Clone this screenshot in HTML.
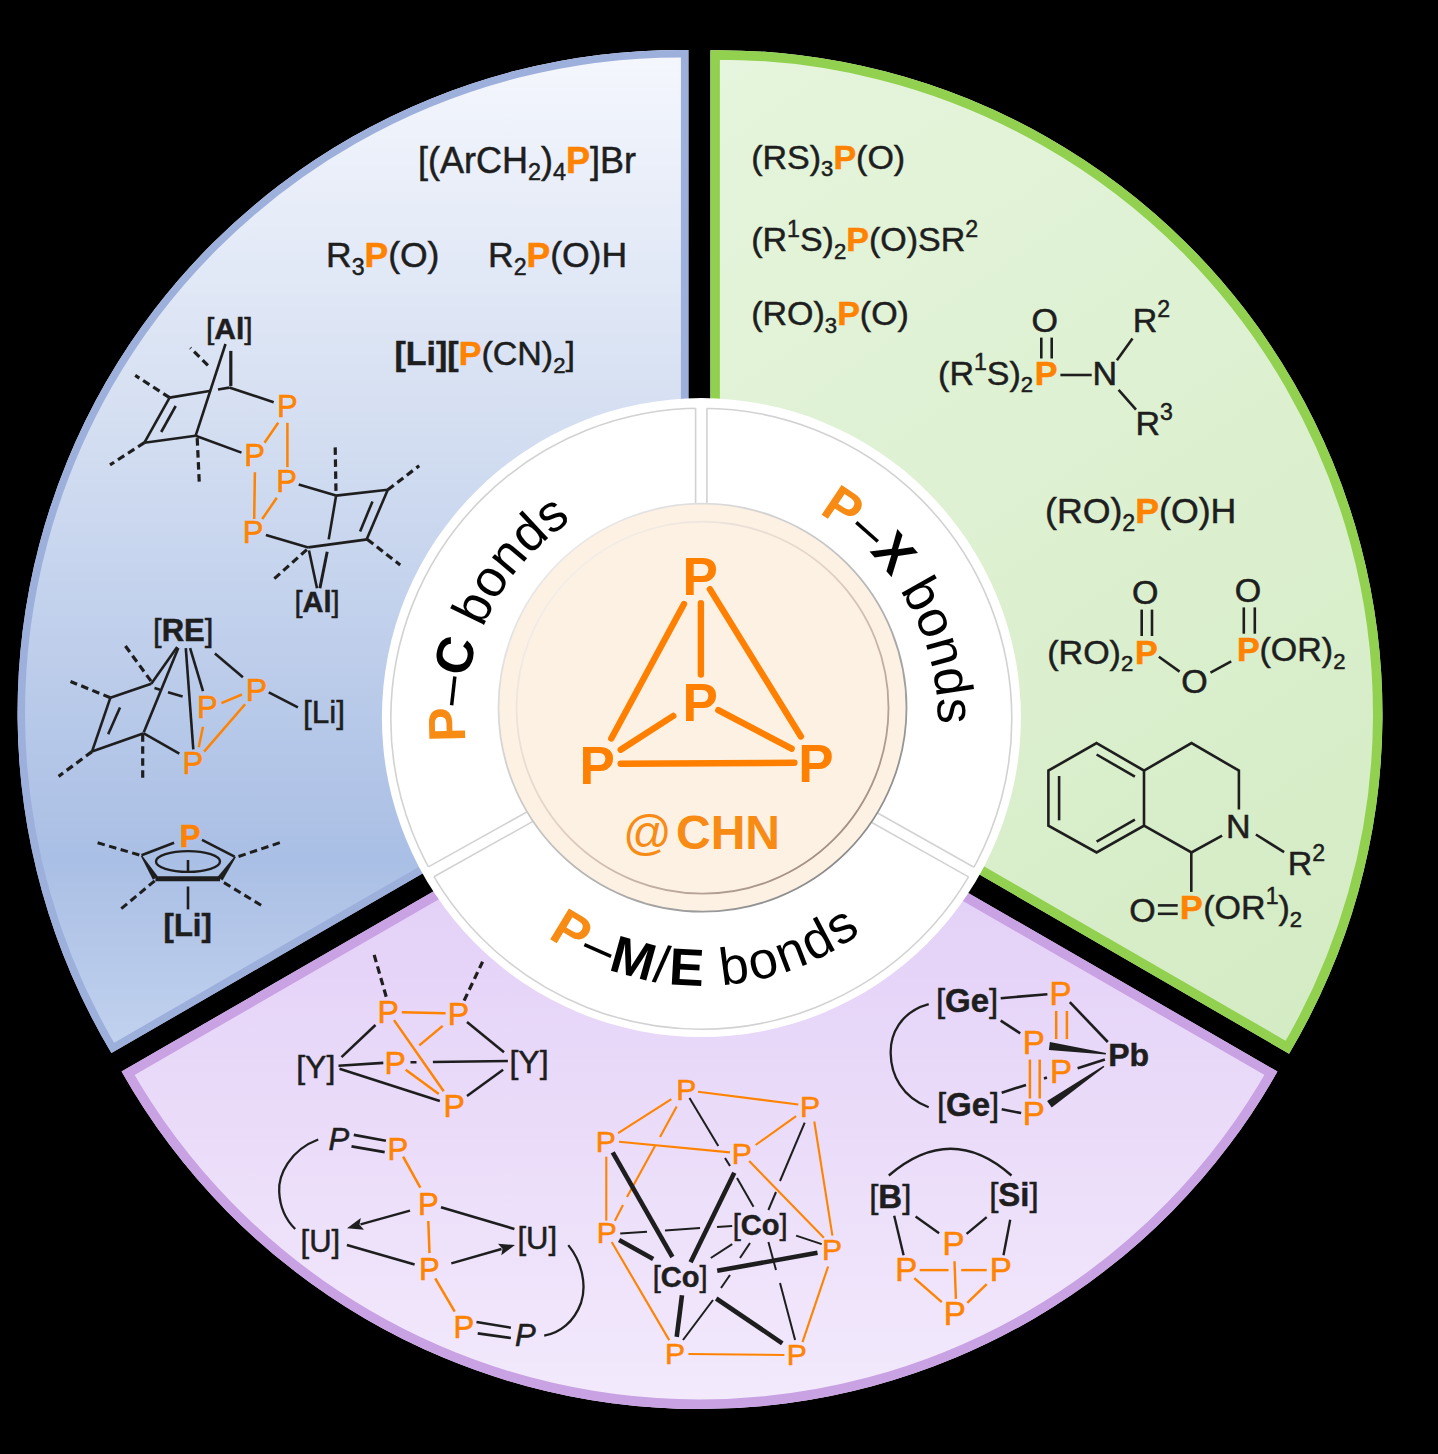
<!DOCTYPE html>
<html><head><meta charset="utf-8"><style>
html,body{margin:0;padding:0;background:#000;}
svg{display:block;font-family:"Liberation Sans",sans-serif;}
</style></head><body>
<svg width="1438" height="1454" viewBox="0 0 1438 1454">
<defs>
<linearGradient id="gb" x1="0" y1="50" x2="0" y2="1060" gradientUnits="userSpaceOnUse">
 <stop offset="0" stop-color="#f5f7fd"/><stop offset="0.35" stop-color="#d6e0f2"/>
 <stop offset="0.8" stop-color="#aabfe5"/><stop offset="1" stop-color="#c3d3ef"/></linearGradient>
<linearGradient id="gg" x1="700" y1="50" x2="1380" y2="1060" gradientUnits="userSpaceOnUse">
 <stop offset="0" stop-color="#e6f5dd"/><stop offset="1" stop-color="#d3ebc3"/></linearGradient>
<linearGradient id="gp" x1="0" y1="880" x2="0" y2="1410" gradientUnits="userSpaceOnUse">
 <stop offset="0" stop-color="#e3d0f7"/><stop offset="1" stop-color="#f3eafc"/></linearGradient>
<clipPath id="cb"><path d="M688.4,719.9 L688.4,50.0 A663,663 0 0 0 111.4,1053.0 Z"/></clipPath>
<clipPath id="cg"><path d="M710.4,718.9 L710.4,50.2 A664,664 0 0 1 1289.1,1053.7 Z"/></clipPath>
<clipPath id="cp"><path d="M699.5,737.9 L121.6,1071.5 A663.5,663.5 0 0 0 1277.4,1071.5 Z"/></clipPath>
<filter id="soft" x="-5%" y="-5%" width="110%" height="110%"><feGaussianBlur stdDeviation="0.7"/></filter>
<linearGradient id="rg1" x1="560" y1="560" x2="850" y2="860" gradientUnits="userSpaceOnUse">
<stop offset="0" stop-color="#e8e8e8"/><stop offset="0.5" stop-color="#bdbdbd"/><stop offset="1" stop-color="#8a8a8a"/></linearGradient>
<linearGradient id="rg2" x1="570" y1="570" x2="840" y2="850" gradientUnits="userSpaceOnUse">
<stop offset="0" stop-color="#f4eee8"/><stop offset="0.45" stop-color="#e2d2c6"/><stop offset="1" stop-color="#a08c80"/></linearGradient><path id="pc" d="M701.3,955.2 A236.5,236.5 0 1 1 701.3,482.2 A236.5,236.5 0 1 1 701.3,955.2"/><path id="pmb" d="M701.3,451.7 A267,267 0 1 0 701.3,985.7 A267,267 0 1 0 701.3,451.7"/></defs>
<rect width="1438" height="1454" fill="#000"/>
<path d="M688.4,719.9 L688.4,50.0 A663,663 0 0 0 111.4,1053.0 Z" fill="url(#gb)"/>
<path d="M688.4,719.9 L688.4,50.0 A663,663 0 0 0 111.4,1053.0 Z" fill="none" stroke="#9db0dc" stroke-width="15" clip-path="url(#cb)"/>
<path d="M710.4,718.9 L710.4,50.2 A664,664 0 0 1 1289.1,1053.7 Z" fill="url(#gg)"/>
<path d="M710.4,718.9 L710.4,50.2 A664,664 0 0 1 1289.1,1053.7 Z" fill="none" stroke="#92d050" stroke-width="19" clip-path="url(#cg)"/>
<path d="M699.5,737.9 L121.6,1071.5 A663.5,663.5 0 0 0 1277.4,1071.5 Z" fill="url(#gp)"/>
<path d="M699.5,737.9 L121.6,1071.5 A663.5,663.5 0 0 0 1277.4,1071.5 Z" fill="none" stroke="#c8a2e3" stroke-width="19" clip-path="url(#cp)"/>
<circle cx="701.4" cy="717.6" r="319.5" fill="#fff"/>
<circle cx="701.3" cy="718.7" r="310.5" fill="none" stroke="#d2d2d2" stroke-width="1.6"/>
<polygon points="428.7,879.6 556.2,808.4 550.8,798.6 423.2,869.8" fill="#fff"/>
<line x1="433.9" y1="876.7" x2="556.2" y2="808.4" stroke="#d2d2d2" stroke-width="1.6"/>
<line x1="428.4" y1="866.9" x2="550.8" y2="798.6" stroke="#d2d2d2" stroke-width="1.6"/>
<polygon points="979.3,870.1 853.7,799.5 848.2,809.3 973.8,879.9" fill="#fff"/>
<line x1="974.0" y1="867.2" x2="853.7" y2="799.5" stroke="#d2d2d2" stroke-width="1.6"/>
<line x1="968.5" y1="876.9" x2="848.2" y2="809.3" stroke="#d2d2d2" stroke-width="1.6"/>
<polygon points="695.6,402.2 695.6,550.0 706.9,550.0 706.9,402.2" fill="#fff"/>
<line x1="695.6" y1="408.2" x2="695.6" y2="550.0" stroke="#d2d2d2" stroke-width="1.6"/>
<line x1="706.9" y1="408.2" x2="706.9" y2="550.0" stroke="#d2d2d2" stroke-width="1.6"/>
<circle cx="702.5" cy="707.7" r="204" fill="#fdf1e3" stroke="url(#rg1)" stroke-width="1.8"/>
<circle cx="702.5" cy="707.7" r="186" fill="none" stroke="url(#rg2)" stroke-width="1.8"/>
<line x1="684.0" y1="604.1" x2="611.3" y2="738.4" stroke="#ff8000" stroke-width="6.4" stroke-linecap="round" />
<line x1="700.9" y1="603.2" x2="700.9" y2="674.5" stroke="#ff8000" stroke-width="6.4" stroke-linecap="round" />
<line x1="709.9" y1="589.1" x2="800.9" y2="736.5" stroke="#ff8000" stroke-width="6.4" stroke-linecap="round" />
<line x1="673.3" y1="715.9" x2="620.7" y2="749.7" stroke="#ff8000" stroke-width="6.4" stroke-linecap="round" />
<line x1="718.3" y1="710.2" x2="791.6" y2="748.7" stroke="#ff8000" stroke-width="6.4" stroke-linecap="round" />
<line x1="620.7" y1="763.7" x2="794.4" y2="762.8" stroke="#ff8000" stroke-width="6.4" stroke-linecap="round" />
<text x="700.2" y="594.8" font-size="53" fill="#ff8000" font-weight="bold" text-anchor="middle" >P</text>
<text x="700.2" y="720.6" font-size="53" fill="#ff8000" font-weight="bold" text-anchor="middle" >P</text>
<text x="597.2" y="783.5" font-size="53" fill="#ff8000" font-weight="bold" text-anchor="middle" >P</text>
<text x="816.0" y="781.6" font-size="53" fill="#ff8000" font-weight="bold" text-anchor="middle" >P</text>
<text x="623.0" y="849.4" font-size="48" fill="#f78b14" font-weight="normal" text-anchor="start" >@</text>
<text x="676.0" y="849.4" font-size="48" fill="#f78b14" font-weight="bold" text-anchor="start" >CHN</text>
<text font-size="52" fill="#000" text-anchor="middle"><textPath href="#pc" startOffset="477.2"><tspan fill="#f78b14" font-weight="bold">P</tspan>–<tspan font-weight="bold">C</tspan> bonds</textPath></text>
<text font-size="52" fill="#000" text-anchor="middle"><textPath href="#pc" startOffset="992.3"><tspan fill="#f78b14" font-weight="bold">P</tspan>–<tspan font-weight="bold">X</tspan> bonds</textPath></text>
<text font-size="52.5" letter-spacing="2" fill="#000" text-anchor="middle"><textPath href="#pmb" startOffset="843.5"><tspan fill="#f78b14" font-weight="bold">P</tspan>–<tspan font-weight="bold">M</tspan>/<tspan font-weight="bold">E</tspan> bonds</textPath></text>
<text x="418.0" y="172.5" font-size="36" fill="#1e1e1e" stroke="#1e1e1e" stroke-width="0.5" xml:space="preserve"><tspan>[(ArCH</tspan><tspan font-size="23.4" dy="7.9">2</tspan><tspan font-size="36" dy="-7.9">​</tspan><tspan>)</tspan><tspan font-size="23.4" dy="7.9">4</tspan><tspan font-size="36" dy="-7.9">​</tspan><tspan font-weight="bold" fill="#ff8300" stroke="#ff8300">P</tspan><tspan>]Br</tspan></text>
<text x="326.0" y="267.0" font-size="35.5" fill="#1e1e1e" stroke="#1e1e1e" stroke-width="0.5" xml:space="preserve"><tspan>R</tspan><tspan font-size="23.1" dy="7.8">3</tspan><tspan font-size="35.5" dy="-7.8">​</tspan><tspan font-weight="bold" fill="#ff8300" stroke="#ff8300">P</tspan><tspan>(O)</tspan></text>
<text x="488.0" y="267.4" font-size="35.5" fill="#1e1e1e" stroke="#1e1e1e" stroke-width="0.5" xml:space="preserve"><tspan>R</tspan><tspan font-size="23.1" dy="7.8">2</tspan><tspan font-size="35.5" dy="-7.8">​</tspan><tspan font-weight="bold" fill="#ff8300" stroke="#ff8300">P</tspan><tspan>(O)H</tspan></text>
<text x="394.5" y="365.2" font-size="34" fill="#1e1e1e" stroke="#1e1e1e" stroke-width="0.5" xml:space="preserve"><tspan font-weight="bold">[</tspan><tspan font-weight="bold">Li</tspan><tspan font-weight="bold">][</tspan><tspan font-weight="bold" fill="#ff8300" stroke="#ff8300">P</tspan><tspan>(CN)</tspan><tspan font-size="22.1" dy="7.5">2</tspan><tspan font-size="34" dy="-7.5">​</tspan><tspan>]</tspan></text>
<text x="206.0" y="338.7" font-size="30" fill="#1e1e1e" stroke="#1e1e1e" stroke-width="0.5" xml:space="preserve"><tspan>[</tspan><tspan font-weight="bold">Al</tspan><tspan>]</tspan></text>
<line x1="225.5" y1="344.0" x2="195.6" y2="435.8" stroke="#1e1e1e" stroke-width="2.6"/>
<line x1="230.8" y1="350.9" x2="230.8" y2="386.1" stroke="#1e1e1e" stroke-width="3.2"/>
<line x1="207.9" y1="365.4" x2="190.3" y2="347.8" stroke="#1e1e1e" stroke-width="3.2" stroke-dasharray="7.5 4.5"/>
<line x1="229.3" y1="387.6" x2="273.7" y2="402.2" stroke="#1e1e1e" stroke-width="2.6"/>
<line x1="229.3" y1="387.6" x2="218.0" y2="389.5" stroke="#1e1e1e" stroke-width="2.6"/>
<line x1="211.0" y1="390.7" x2="169.6" y2="397.6" stroke="#1e1e1e" stroke-width="2.6"/>
<line x1="169.6" y1="397.6" x2="135.2" y2="375.4" stroke="#1e1e1e" stroke-width="3.2" stroke-dasharray="7.5 4.5"/>
<line x1="169.6" y1="397.6" x2="144.4" y2="442.7" stroke="#1e1e1e" stroke-width="2.6"/>
<line x1="175.7" y1="406.0" x2="161.2" y2="432.0" stroke="#1e1e1e" stroke-width="2.6"/>
<line x1="144.4" y1="442.7" x2="195.6" y2="435.8" stroke="#1e1e1e" stroke-width="2.6"/>
<line x1="144.4" y1="442.7" x2="110.0" y2="464.9" stroke="#1e1e1e" stroke-width="3.2" stroke-dasharray="7.5 4.5"/>
<line x1="195.6" y1="435.8" x2="241.5" y2="452.6" stroke="#1e1e1e" stroke-width="2.6"/>
<line x1="197.2" y1="438.1" x2="199.4" y2="485.5" stroke="#1e1e1e" stroke-width="3.2" stroke-dasharray="7.5 4.5"/>
<text x="277.0" y="416.7" font-size="31" fill="#ff8300" stroke="#ff8300" stroke-width="0.6" font-weight="normal">P</text>
<text x="244.2" y="466.4" font-size="31" fill="#ff8300" stroke="#ff8300" stroke-width="0.6" font-weight="normal">P</text>
<text x="276.2" y="491.7" font-size="31" fill="#ff8300" stroke="#ff8300" stroke-width="0.6" font-weight="normal">P</text>
<text x="242.8" y="543.1" font-size="31" fill="#ff8300" stroke="#ff8300" stroke-width="0.6" font-weight="normal">P</text>
<line x1="278.2" y1="422.8" x2="264.5" y2="442.7" stroke="#ff8300" stroke-width="2.5"/>
<line x1="287.4" y1="422.8" x2="287.4" y2="467.2" stroke="#ff8300" stroke-width="2.5"/>
<line x1="254.9" y1="472.2" x2="254.2" y2="519.0" stroke="#ff8300" stroke-width="2.5"/>
<line x1="276.8" y1="497.8" x2="262.2" y2="519.0" stroke="#ff8300" stroke-width="2.5"/>
<line x1="298.7" y1="484.6" x2="336.0" y2="495.6" stroke="#1e1e1e" stroke-width="2.6"/>
<line x1="335.2" y1="447.4" x2="336.0" y2="493.4" stroke="#1e1e1e" stroke-width="3.2" stroke-dasharray="7.5 4.5"/>
<line x1="336.0" y1="495.6" x2="387.8" y2="489.8" stroke="#1e1e1e" stroke-width="2.6"/>
<line x1="387.8" y1="489.8" x2="419.2" y2="465.7" stroke="#1e1e1e" stroke-width="3.2" stroke-dasharray="7.5 4.5"/>
<line x1="387.8" y1="489.8" x2="366.6" y2="539.4" stroke="#1e1e1e" stroke-width="2.6"/>
<line x1="372.5" y1="501.4" x2="360.1" y2="531.4" stroke="#1e1e1e" stroke-width="2.6"/>
<line x1="336.0" y1="496.3" x2="328.7" y2="539.4" stroke="#1e1e1e" stroke-width="2.6"/>
<line x1="265.9" y1="535.0" x2="308.2" y2="547.4" stroke="#1e1e1e" stroke-width="2.6"/>
<line x1="308.2" y1="547.4" x2="367.4" y2="539.4" stroke="#1e1e1e" stroke-width="2.6"/>
<line x1="367.4" y1="539.4" x2="400.2" y2="565.0" stroke="#1e1e1e" stroke-width="3.2" stroke-dasharray="7.5 4.5"/>
<line x1="306.8" y1="549.6" x2="273.2" y2="579.6" stroke="#1e1e1e" stroke-width="3.2" stroke-dasharray="7.5 4.5"/>
<line x1="309.0" y1="550.4" x2="317.0" y2="588.3" stroke="#1e1e1e" stroke-width="2.6"/>
<line x1="319.9" y1="588.3" x2="327.2" y2="551.8" stroke="#1e1e1e" stroke-width="3.0"/>
<text x="294.5" y="612.4" font-size="29" fill="#1e1e1e" stroke="#1e1e1e" stroke-width="0.5" xml:space="preserve"><tspan>[</tspan><tspan font-weight="bold">Al</tspan><tspan>]</tspan></text>
<text x="153.0" y="640.6" font-size="31" fill="#1e1e1e" stroke="#1e1e1e" stroke-width="0.5" xml:space="preserve"><tspan>[</tspan><tspan font-weight="bold">RE</tspan><tspan>]</tspan></text>
<text x="302.9" y="722.5" font-size="31.5" fill="#1e1e1e" stroke="#1e1e1e" stroke-width="0.5" xml:space="preserve"><tspan>[</tspan><tspan>Li</tspan><tspan>]</tspan></text>
<text x="245.7" y="700.9" font-size="32" fill="#ff8300" stroke="#ff8300" stroke-width="0.6" font-weight="normal">P</text>
<text x="197.1" y="718.2" font-size="31" fill="#ff8300" stroke="#ff8300" stroke-width="0.6" font-weight="normal">P</text>
<text x="182.5" y="774.2" font-size="31" fill="#ff8300" stroke="#ff8300" stroke-width="0.6" font-weight="normal">P</text>
<line x1="177.2" y1="647.0" x2="151.3" y2="683.7" stroke="#1e1e1e" stroke-width="2.6"/>
<line x1="178.3" y1="648.1" x2="143.8" y2="732.2" stroke="#1e1e1e" stroke-width="2.6"/>
<line x1="185.8" y1="648.1" x2="193.3" y2="749.4" stroke="#1e1e1e" stroke-width="2.6"/>
<line x1="190.1" y1="648.1" x2="203.0" y2="691.2" stroke="#1e1e1e" stroke-width="2.6"/>
<line x1="214.9" y1="653.5" x2="242.9" y2="677.2" stroke="#1e1e1e" stroke-width="2.6"/>
<line x1="268.8" y1="692.3" x2="297.9" y2="707.4" stroke="#1e1e1e" stroke-width="2.6"/>
<line x1="151.3" y1="683.7" x2="110.4" y2="697.7" stroke="#1e1e1e" stroke-width="2.6"/>
<line x1="154.5" y1="688.0" x2="160.0" y2="689.7" stroke="#1e1e1e" stroke-width="2.6"/>
<line x1="168.0" y1="692.2" x2="182.6" y2="696.6" stroke="#1e1e1e" stroke-width="2.6"/>
<line x1="125.4" y1="646.0" x2="151.3" y2="681.5" stroke="#1e1e1e" stroke-width="3.2" stroke-dasharray="7.5 4.5"/>
<line x1="110.4" y1="697.7" x2="70.5" y2="681.5" stroke="#1e1e1e" stroke-width="3.2" stroke-dasharray="7.5 4.5"/>
<line x1="110.4" y1="697.7" x2="92.0" y2="751.6" stroke="#1e1e1e" stroke-width="2.6"/>
<line x1="120.0" y1="707.4" x2="108.2" y2="734.3" stroke="#1e1e1e" stroke-width="2.6"/>
<line x1="92.0" y1="751.6" x2="143.8" y2="733.3" stroke="#1e1e1e" stroke-width="2.6"/>
<line x1="92.0" y1="751.6" x2="58.6" y2="776.4" stroke="#1e1e1e" stroke-width="3.2" stroke-dasharray="7.5 4.5"/>
<line x1="143.8" y1="733.3" x2="179.3" y2="753.7" stroke="#1e1e1e" stroke-width="2.6"/>
<line x1="142.7" y1="734.3" x2="142.7" y2="780.7" stroke="#1e1e1e" stroke-width="3.2" stroke-dasharray="7.5 4.5"/>
<line x1="221.4" y1="703.1" x2="241.9" y2="694.5" stroke="#ff8300" stroke-width="2.5"/>
<line x1="245.1" y1="704.2" x2="204.1" y2="751.6" stroke="#ff8300" stroke-width="2.5"/>
<line x1="203.0" y1="726.8" x2="198.7" y2="747.3" stroke="#ff8300" stroke-width="2.5"/>
<text x="179.8" y="846.9" font-size="31" fill="#ff8300" stroke="#ff8300" stroke-width="0.6" font-weight="bold">P</text>
<text x="163.6" y="935.9" font-size="31" fill="#1e1e1e" stroke="#1e1e1e" stroke-width="0.5" xml:space="preserve"><tspan font-weight="bold">[</tspan><tspan font-weight="bold">Li</tspan><tspan font-weight="bold">]</tspan></text>
<line x1="174.1" y1="842.7" x2="141.5" y2="855.2" stroke="#1e1e1e" stroke-width="2.6"/>
<line x1="202.0" y1="839.9" x2="234.6" y2="856.6" stroke="#1e1e1e" stroke-width="2.6"/>
<polygon points="140.9,856.3 152.9,879.8 157.9,876.6 142.1,855.5" fill="#1e1e1e"/>
<polygon points="234.7,856.2 217.5,877.1 222.5,880.5 235.9,857.0" fill="#1e1e1e"/>
<line x1="155.4" y1="878.8" x2="220.0" y2="878.8" stroke="#1e1e1e" stroke-width="5"/>
<ellipse cx="188" cy="861.5" rx="32" ry="10.4" fill="none" stroke="#1e1e1e" stroke-width="2.4"/>
<line x1="188.0" y1="860.0" x2="188.0" y2="871.2" stroke="#1e1e1e" stroke-width="2.6"/>
<line x1="188.0" y1="886.5" x2="188.0" y2="909.4" stroke="#1e1e1e" stroke-width="2.6"/>
<line x1="97.6" y1="842.7" x2="140.0" y2="855.2" stroke="#1e1e1e" stroke-width="3" stroke-dasharray="7.5 4.5"/>
<line x1="279.8" y1="842.7" x2="236.0" y2="857.3" stroke="#1e1e1e" stroke-width="3" stroke-dasharray="7.5 4.5"/>
<line x1="121.3" y1="908.7" x2="155.4" y2="880.2" stroke="#1e1e1e" stroke-width="3" stroke-dasharray="7.5 4.5"/>
<line x1="261.1" y1="905.3" x2="220.0" y2="880.2" stroke="#1e1e1e" stroke-width="3" stroke-dasharray="7.5 4.5"/>
<text x="751.2" y="168.9" font-size="34" fill="#1e1e1e" stroke="#1e1e1e" stroke-width="0.5" xml:space="preserve"><tspan>(RS)</tspan><tspan font-size="22.1" dy="7.5">3</tspan><tspan font-size="34" dy="-7.5">​</tspan><tspan font-weight="bold" fill="#ff8300" stroke="#ff8300">P</tspan><tspan>(O)</tspan></text>
<text x="751.2" y="251.2" font-size="34" fill="#1e1e1e" stroke="#1e1e1e" stroke-width="0.5" xml:space="preserve"><tspan>(R</tspan><tspan font-size="23.1" dy="-14.6">1</tspan><tspan font-size="34" dy="14.6">​</tspan><tspan>S)</tspan><tspan font-size="22.1" dy="7.5">2</tspan><tspan font-size="34" dy="-7.5">​</tspan><tspan font-weight="bold" fill="#ff8300" stroke="#ff8300">P</tspan><tspan>(O)SR</tspan><tspan font-size="23.1" dy="-14.6">2</tspan><tspan font-size="34" dy="14.6">​</tspan></text>
<text x="751.2" y="325.3" font-size="34" fill="#1e1e1e" stroke="#1e1e1e" stroke-width="0.5" xml:space="preserve"><tspan>(RO)</tspan><tspan font-size="22.1" dy="7.5">3</tspan><tspan font-size="34" dy="-7.5">​</tspan><tspan font-weight="bold" fill="#ff8300" stroke="#ff8300">P</tspan><tspan>(O)</tspan></text>
<text x="938.1" y="384.5" font-size="34" fill="#1e1e1e" stroke="#1e1e1e" stroke-width="0.5" xml:space="preserve"><tspan>(R</tspan><tspan font-size="23.1" dy="-14.6">1</tspan><tspan font-size="34" dy="14.6">​</tspan><tspan>S)</tspan><tspan font-size="22.1" dy="7.5">2</tspan><tspan font-size="34" dy="-7.5">​</tspan></text>
<text x="1034.7" y="384.5" font-size="34" fill="#ff8300" stroke="#ff8300" stroke-width="0.6" font-weight="bold">P</text>
<text x="1031.5" y="331.5" font-size="34" fill="#1e1e1e" stroke="#1e1e1e" stroke-width="0.6" font-weight="normal">O</text>
<line x1="1041.3" y1="337.6" x2="1041.3" y2="358.5" stroke="#1e1e1e" stroke-width="2.6"/>
<line x1="1051.7" y1="337.6" x2="1051.7" y2="358.5" stroke="#1e1e1e" stroke-width="2.6"/>
<line x1="1060.4" y1="375.0" x2="1091.7" y2="375.0" stroke="#1e1e1e" stroke-width="2.6"/>
<text x="1092.4" y="384.5" font-size="34" fill="#1e1e1e" stroke="#1e1e1e" stroke-width="0.6" font-weight="normal">N</text>
<line x1="1116.9" y1="360.2" x2="1132.5" y2="338.5" stroke="#1e1e1e" stroke-width="2.6"/>
<text x="1132.8" y="331.5" font-size="34" fill="#1e1e1e" stroke="#1e1e1e" stroke-width="0.5" xml:space="preserve"><tspan>R</tspan><tspan font-size="23.1" dy="-14.6">2</tspan><tspan font-size="34" dy="14.6">​</tspan></text>
<line x1="1118.6" y1="389.8" x2="1136.0" y2="409.7" stroke="#1e1e1e" stroke-width="2.6"/>
<text x="1135.4" y="435.0" font-size="34" fill="#1e1e1e" stroke="#1e1e1e" stroke-width="0.5" xml:space="preserve"><tspan>R</tspan><tspan font-size="23.1" dy="-14.6">3</tspan><tspan font-size="34" dy="14.6">​</tspan></text>
<text x="1045.0" y="522.8" font-size="35.7" fill="#1e1e1e" stroke="#1e1e1e" stroke-width="0.5" xml:space="preserve"><tspan>(RO)</tspan><tspan font-size="23.2" dy="7.9">2</tspan><tspan font-size="35.7" dy="-7.9">​</tspan><tspan font-weight="bold" fill="#ff8300" stroke="#ff8300">P</tspan><tspan>(O)H</tspan></text>
<text x="1047.3" y="663.6" font-size="34" fill="#1e1e1e" stroke="#1e1e1e" stroke-width="0.5" xml:space="preserve"><tspan>(RO)</tspan><tspan font-size="22.1" dy="7.5">2</tspan><tspan font-size="34" dy="-7.5">​</tspan></text>
<text x="1135.0" y="663.6" font-size="34" fill="#ff8300" stroke="#ff8300" stroke-width="0.6" font-weight="bold">P</text>
<text x="1132.0" y="603.9" font-size="34" fill="#1e1e1e" stroke="#1e1e1e" stroke-width="0.6" font-weight="normal">O</text>
<line x1="1141.7" y1="609.6" x2="1141.7" y2="636.0" stroke="#1e1e1e" stroke-width="2.6"/>
<line x1="1152.0" y1="609.6" x2="1152.0" y2="636.0" stroke="#1e1e1e" stroke-width="2.6"/>
<line x1="1158.9" y1="656.7" x2="1179.6" y2="671.6" stroke="#1e1e1e" stroke-width="2.6"/>
<text x="1181.3" y="693.4" font-size="34" fill="#1e1e1e" stroke="#1e1e1e" stroke-width="0.6" font-weight="normal">O</text>
<line x1="1210.5" y1="672.7" x2="1231.2" y2="661.3" stroke="#1e1e1e" stroke-width="2.6"/>
<text x="1237.1" y="661.3" font-size="34" fill="#ff8300" stroke="#ff8300" stroke-width="0.6" font-weight="bold">P</text>
<text x="1234.7" y="601.6" font-size="34" fill="#1e1e1e" stroke="#1e1e1e" stroke-width="0.6" font-weight="normal">O</text>
<line x1="1243.8" y1="607.4" x2="1243.8" y2="633.7" stroke="#1e1e1e" stroke-width="2.6"/>
<line x1="1254.8" y1="607.4" x2="1254.8" y2="633.7" stroke="#1e1e1e" stroke-width="2.6"/>
<text x="1259.5" y="661.3" font-size="34" fill="#1e1e1e" stroke="#1e1e1e" stroke-width="0.5" xml:space="preserve"><tspan>(OR)</tspan><tspan font-size="22.1" dy="7.5">2</tspan><tspan font-size="34" dy="-7.5">​</tspan></text>
<polygon points="1096.6,743.1 1144.0,770.6 1144.0,825.7 1096.6,852.5 1048.4,825.7 1048.4,770.6" fill="none" stroke="#1e1e1e" stroke-width="2.6" stroke-linejoin="miter"/>
<line x1="1096.6" y1="754.5" x2="1134.9" y2="776.7" stroke="#1e1e1e" stroke-width="2.6"/>
<line x1="1059.1" y1="776.0" x2="1059.1" y2="820.3" stroke="#1e1e1e" stroke-width="2.6"/>
<line x1="1096.6" y1="841.7" x2="1134.9" y2="819.6" stroke="#1e1e1e" stroke-width="2.6"/>
<polyline points="1144,770.6 1191.5,743.1 1238.9,770.6 1238.9,809.6" fill="none" stroke="#1e1e1e" stroke-width="2.6" stroke-linejoin="miter"/>
<text x="1225.9" y="837.9" font-size="34" fill="#1e1e1e" stroke="#1e1e1e" stroke-width="0.6" font-weight="normal">N</text>
<polyline points="1222.1,835.6 1191.5,852.5 1144,825.7" fill="none" stroke="#1e1e1e" stroke-width="2.6" stroke-linejoin="miter"/>
<line x1="1191.3" y1="852.2" x2="1191.3" y2="891.9" stroke="#1e1e1e" stroke-width="2.6"/>
<line x1="1255.9" y1="834.5" x2="1284.1" y2="852.2" stroke="#1e1e1e" stroke-width="2.6"/>
<text x="1287.8" y="875.2" font-size="34" fill="#1e1e1e" stroke="#1e1e1e" stroke-width="0.5" xml:space="preserve"><tspan>R</tspan><tspan font-size="23.1" dy="-14.6">2</tspan><tspan font-size="34" dy="14.6">​</tspan></text>
<text x="1129.3" y="921.5" font-size="34" fill="#1e1e1e" stroke="#1e1e1e" stroke-width="0.5" xml:space="preserve"><tspan>O</tspan></text>
<line x1="1157.9" y1="905.4" x2="1177.7" y2="905.4" stroke="#1e1e1e" stroke-width="2.6"/>
<line x1="1157.9" y1="913.8" x2="1177.7" y2="913.8" stroke="#1e1e1e" stroke-width="2.6"/>
<text x="1180.0" y="919.0" font-size="34" fill="#ff8300" stroke="#ff8300" stroke-width="0.6" font-weight="bold">P</text>
<text x="1203.3" y="919.0" font-size="34" fill="#1e1e1e" stroke="#1e1e1e" stroke-width="0.5" xml:space="preserve"><tspan>(OR</tspan><tspan font-size="23.1" dy="-14.6">1</tspan><tspan font-size="34" dy="14.6">​</tspan><tspan>)</tspan><tspan font-size="22.1" dy="7.5">2</tspan><tspan font-size="34" dy="-7.5">​</tspan></text>
<text x="377.6" y="1023.0" font-size="32" fill="#ff8300" stroke="#ff8300" stroke-width="0.6" font-weight="normal">P</text>
<text x="447.7" y="1025.0" font-size="32" fill="#ff8300" stroke="#ff8300" stroke-width="0.6" font-weight="normal">P</text>
<text x="384.4" y="1073.6" font-size="32" fill="#ff8300" stroke="#ff8300" stroke-width="0.6" font-weight="normal">P</text>
<text x="443.4" y="1117.4" font-size="32" fill="#ff8300" stroke="#ff8300" stroke-width="0.6" font-weight="normal">P</text>
<text x="296.2" y="1078.3" font-size="32" fill="#1e1e1e" stroke="#1e1e1e" stroke-width="0.5" xml:space="preserve"><tspan>[Y]</tspan></text>
<text x="509.4" y="1072.8" font-size="32" fill="#1e1e1e" stroke="#1e1e1e" stroke-width="0.5" xml:space="preserve"><tspan>[Y]</tspan></text>
<line x1="401.8" y1="1012.3" x2="445.6" y2="1013.3" stroke="#ff8300" stroke-width="2.5"/>
<line x1="442.7" y1="1025.9" x2="419.3" y2="1045.4" stroke="#ff8300" stroke-width="2.5"/>
<line x1="394.0" y1="1020.1" x2="443.7" y2="1091.2" stroke="#ff8300" stroke-width="2.5"/>
<line x1="405.7" y1="1069.7" x2="438.8" y2="1094.1" stroke="#ff8300" stroke-width="2.5"/>
<line x1="341.5" y1="1057.1" x2="375.5" y2="1025.0" stroke="#1e1e1e" stroke-width="2.6"/>
<line x1="338.5" y1="1065.8" x2="383.3" y2="1062.9" stroke="#1e1e1e" stroke-width="2.6"/>
<line x1="339.5" y1="1068.8" x2="439.8" y2="1100.9" stroke="#1e1e1e" stroke-width="2.6"/>
<line x1="410.5" y1="1062.3" x2="416.5" y2="1062.2" stroke="#1e1e1e" stroke-width="2.6"/>
<line x1="432.9" y1="1062.0" x2="507.9" y2="1061.0" stroke="#1e1e1e" stroke-width="2.6"/>
<line x1="467.0" y1="1022.0" x2="504.0" y2="1052.2" stroke="#1e1e1e" stroke-width="2.6"/>
<line x1="467.0" y1="1096.0" x2="503.1" y2="1069.7" stroke="#1e1e1e" stroke-width="2.6"/>
<line x1="386.2" y1="996.7" x2="373.6" y2="952.9" stroke="#1e1e1e" stroke-width="3.2" stroke-dasharray="7.5 4.5"/>
<line x1="464.1" y1="1000.6" x2="482.6" y2="961.7" stroke="#1e1e1e" stroke-width="3.2" stroke-dasharray="7.5 4.5"/>
<text x="328.4" y="1149.8" font-size="31" fill="#1e1e1e" stroke="#1e1e1e" stroke-width="0.6" font-weight="normal" font-style="italic">P</text>
<text x="387.6" y="1160.2" font-size="31" fill="#ff8300" stroke="#ff8300" stroke-width="0.6" font-weight="normal">P</text>
<text x="417.9" y="1215.2" font-size="31" fill="#ff8300" stroke="#ff8300" stroke-width="0.6" font-weight="normal">P</text>
<text x="419.1" y="1279.5" font-size="31" fill="#ff8300" stroke="#ff8300" stroke-width="0.6" font-weight="normal">P</text>
<text x="453.5" y="1338.0" font-size="31" fill="#ff8300" stroke="#ff8300" stroke-width="0.6" font-weight="normal">P</text>
<text x="514.9" y="1346.0" font-size="31" fill="#1e1e1e" stroke="#1e1e1e" stroke-width="0.6" font-weight="normal" font-style="italic">P</text>
<text x="300.6" y="1251.5" font-size="31" fill="#1e1e1e" stroke="#1e1e1e" stroke-width="0.5" xml:space="preserve"><tspan>[U]</tspan></text>
<text x="517.5" y="1248.5" font-size="31" fill="#1e1e1e" stroke="#1e1e1e" stroke-width="0.5" xml:space="preserve"><tspan>[U]</tspan></text>
<line x1="353.8" y1="1134.9" x2="385.9" y2="1140.7" stroke="#1e1e1e" stroke-width="2.6"/>
<line x1="351.5" y1="1146.4" x2="384.7" y2="1152.1" stroke="#1e1e1e" stroke-width="2.6"/>
<line x1="403.1" y1="1156.7" x2="420.3" y2="1187.7" stroke="#ff8300" stroke-width="2.5"/>
<line x1="428.3" y1="1221.0" x2="429.5" y2="1253.1" stroke="#ff8300" stroke-width="2.5"/>
<line x1="435.2" y1="1278.3" x2="454.7" y2="1311.6" stroke="#ff8300" stroke-width="2.5"/>
<line x1="410.0" y1="1210.6" x2="360.5" y2="1224.4" stroke="#1e1e1e" stroke-width="2.5"/>
<polygon points="347.0,1228.2 360.8,1218.1 359.5,1224.7 364.0,1229.7" fill="#1e1e1e"/>
<line x1="441.0" y1="1207.2" x2="514.4" y2="1229.0" stroke="#1e1e1e" stroke-width="2.6"/>
<line x1="346.9" y1="1245.1" x2="414.6" y2="1264.6" stroke="#1e1e1e" stroke-width="2.6"/>
<line x1="451.3" y1="1263.4" x2="501.5" y2="1249.0" stroke="#1e1e1e" stroke-width="2.5"/>
<polygon points="515.0,1245.1 501.3,1255.3 502.5,1248.7 498.0,1243.8" fill="#1e1e1e"/>
<line x1="476.5" y1="1322.0" x2="510.9" y2="1327.7" stroke="#1e1e1e" stroke-width="2.6"/>
<line x1="477.7" y1="1333.4" x2="510.9" y2="1338.0" stroke="#1e1e1e" stroke-width="2.6"/>
<path d="M318.2,1139.5 C290,1150 278,1175 279.2,1192 C280,1208 286,1220 295.2,1229" fill="none" stroke="#1e1e1e" stroke-width="2.3"/>
<path d="M568.3,1245.1 C582,1262 587,1285 581,1303 C574,1322 560,1333 544.2,1335.7" fill="none" stroke="#1e1e1e" stroke-width="2.3"/>
<line x1="698.0" y1="1091.7" x2="798.3" y2="1104.5" stroke="#ff8300" stroke-width="2.1"/>
<line x1="671.4" y1="1099.1" x2="618.1" y2="1133.2" stroke="#ff8300" stroke-width="2.1"/>
<line x1="676.7" y1="1106.6" x2="660.0" y2="1137.0" stroke="#ff8300" stroke-width="2.1"/>
<line x1="655.0" y1="1146.0" x2="627.0" y2="1197.0" stroke="#ff8300" stroke-width="2.1"/>
<line x1="623.0" y1="1205.0" x2="614.9" y2="1220.7" stroke="#ff8300" stroke-width="2.1"/>
<line x1="619.1" y1="1141.8" x2="730.0" y2="1152.4" stroke="#ff8300" stroke-width="2.1"/>
<line x1="796.1" y1="1116.2" x2="755.6" y2="1145.0" stroke="#ff8300" stroke-width="2.1"/>
<line x1="606.3" y1="1156.7" x2="606.3" y2="1220.7" stroke="#ff8300" stroke-width="2.1"/>
<line x1="749.2" y1="1161.0" x2="823.9" y2="1237.7" stroke="#ff8300" stroke-width="2.1"/>
<line x1="814.3" y1="1121.5" x2="832.4" y2="1235.6" stroke="#ff8300" stroke-width="2.1"/>
<line x1="611.7" y1="1242.0" x2="669.2" y2="1340.1" stroke="#ff8300" stroke-width="2.1"/>
<line x1="828.1" y1="1266.5" x2="802.5" y2="1342.2" stroke="#ff8300" stroke-width="2.1"/>
<line x1="688.4" y1="1354.0" x2="784.4" y2="1355.0" stroke="#ff8300" stroke-width="2.1"/>
<line x1="689.5" y1="1098.0" x2="718.3" y2="1146.0" stroke="#1e1e1e" stroke-width="2.0"/>
<line x1="725.0" y1="1158.0" x2="730.0" y2="1166.0" stroke="#1e1e1e" stroke-width="2.0"/>
<line x1="737.0" y1="1178.0" x2="753.5" y2="1206.8" stroke="#1e1e1e" stroke-width="2.0"/>
<line x1="804.7" y1="1122.6" x2="780.0" y2="1181.0" stroke="#1e1e1e" stroke-width="2.0"/>
<line x1="776.0" y1="1192.0" x2="768.4" y2="1210.0" stroke="#1e1e1e" stroke-width="2.0"/>
<line x1="620.2" y1="1233.5" x2="647.0" y2="1231.7" stroke="#1e1e1e" stroke-width="2.0"/>
<line x1="665.0" y1="1230.5" x2="700.0" y2="1228.1" stroke="#1e1e1e" stroke-width="2.0"/>
<line x1="717.0" y1="1227.0" x2="732.2" y2="1226.0" stroke="#1e1e1e" stroke-width="2.0"/>
<line x1="796.1" y1="1235.6" x2="821.7" y2="1244.1" stroke="#1e1e1e" stroke-width="2.0"/>
<line x1="768.4" y1="1242.0" x2="776.0" y2="1270.0" stroke="#1e1e1e" stroke-width="2.0"/>
<line x1="780.0" y1="1283.0" x2="795.1" y2="1340.1" stroke="#1e1e1e" stroke-width="2.0"/>
<line x1="732.2" y1="1244.1" x2="710.8" y2="1258.0" stroke="#1e1e1e" stroke-width="2.0"/>
<line x1="750.0" y1="1243.0" x2="740.0" y2="1258.0" stroke="#1e1e1e" stroke-width="2.0"/>
<line x1="730.0" y1="1275.0" x2="721.0" y2="1288.0" stroke="#1e1e1e" stroke-width="2.0"/>
<line x1="713.0" y1="1300.0" x2="683.0" y2="1340.0" stroke="#1e1e1e" stroke-width="2.0"/>
<line x1="612.7" y1="1152.4" x2="672.4" y2="1257.0" stroke="#1e1e1e" stroke-width="4.6"/>
<line x1="734.3" y1="1172.7" x2="690.6" y2="1262.3" stroke="#1e1e1e" stroke-width="4.6"/>
<line x1="619.1" y1="1239.9" x2="653.2" y2="1259.1" stroke="#1e1e1e" stroke-width="4.6"/>
<line x1="717.2" y1="1270.8" x2="817.5" y2="1252.7" stroke="#1e1e1e" stroke-width="4.6"/>
<line x1="682.0" y1="1295.3" x2="676.7" y2="1336.9" stroke="#1e1e1e" stroke-width="4.6"/>
<line x1="716.2" y1="1298.5" x2="782.3" y2="1343.3" stroke="#1e1e1e" stroke-width="4.6"/>
<text x="676.3" y="1100.2" font-size="30" fill="#ff8300" stroke="#ff8300" stroke-width="0.6" font-weight="normal">P</text>
<text x="800.0" y="1117.2" font-size="30" fill="#ff8300" stroke="#ff8300" stroke-width="0.6" font-weight="normal">P</text>
<text x="595.8" y="1152.4" font-size="30" fill="#ff8300" stroke="#ff8300" stroke-width="0.6" font-weight="normal">P</text>
<text x="731.8" y="1164.2" font-size="30" fill="#ff8300" stroke="#ff8300" stroke-width="0.6" font-weight="normal">P</text>
<text x="596.8" y="1243.1" font-size="30" fill="#ff8300" stroke="#ff8300" stroke-width="0.6" font-weight="normal">P</text>
<text x="821.9" y="1260.1" font-size="30" fill="#ff8300" stroke="#ff8300" stroke-width="0.6" font-weight="normal">P</text>
<text x="665.1" y="1363.6" font-size="30" fill="#ff8300" stroke="#ff8300" stroke-width="0.6" font-weight="normal">P</text>
<text x="786.7" y="1364.6" font-size="30" fill="#ff8300" stroke="#ff8300" stroke-width="0.6" font-weight="normal">P</text>
<text x="732.8" y="1234.5" font-size="29" fill="#1e1e1e" stroke="#1e1e1e" stroke-width="0.5" xml:space="preserve"><tspan>[</tspan><tspan font-weight="bold">Co</tspan><tspan>]</tspan></text>
<text x="652.8" y="1286.8" font-size="29" fill="#1e1e1e" stroke="#1e1e1e" stroke-width="0.5" xml:space="preserve"><tspan>[</tspan><tspan font-weight="bold">Co</tspan><tspan>]</tspan></text>
<text x="935.9" y="1011.9" font-size="33" fill="#1e1e1e" stroke="#1e1e1e" stroke-width="0.5" xml:space="preserve"><tspan>[</tspan><tspan font-weight="bold">Ge</tspan><tspan>]</tspan></text>
<text x="936.9" y="1116.0" font-size="33" fill="#1e1e1e" stroke="#1e1e1e" stroke-width="0.5" xml:space="preserve"><tspan>[</tspan><tspan font-weight="bold">Ge</tspan><tspan>]</tspan></text>
<text x="1049.5" y="1005.0" font-size="33" fill="#ff8300" stroke="#ff8300" stroke-width="0.6" font-weight="normal">P</text>
<text x="1022.8" y="1053.7" font-size="33" fill="#ff8300" stroke="#ff8300" stroke-width="0.6" font-weight="normal">P</text>
<text x="1050.0" y="1082.9" font-size="33" fill="#ff8300" stroke="#ff8300" stroke-width="0.6" font-weight="normal">P</text>
<text x="1022.8" y="1124.8" font-size="33" fill="#ff8300" stroke="#ff8300" stroke-width="0.6" font-weight="normal">P</text>
<text x="1108.2" y="1066.4" font-size="32" fill="#1e1e1e" stroke="#1e1e1e" stroke-width="0.5" xml:space="preserve"><tspan font-weight="bold">Pb</tspan></text>
<line x1="1000.7" y1="998.2" x2="1047.4" y2="994.3" stroke="#1e1e1e" stroke-width="2.6"/>
<line x1="1000.7" y1="1020.6" x2="1020.2" y2="1033.3" stroke="#1e1e1e" stroke-width="2.6"/>
<line x1="1056.2" y1="1010.9" x2="1056.2" y2="1039.1" stroke="#ff8300" stroke-width="2.5"/>
<line x1="1066.9" y1="1010.9" x2="1066.9" y2="1039.1" stroke="#ff8300" stroke-width="2.5"/>
<line x1="1069.8" y1="1002.1" x2="1107.8" y2="1042.0" stroke="#1e1e1e" stroke-width="2.6"/>
<polygon points="1048.9,1049.9 1105.8,1054.4 1106.0,1053.0 1049.9,1041.9" fill="#1e1e1e"/>
<line x1="1077.6" y1="1068.3" x2="1104.9" y2="1059.6" stroke="#1e1e1e" stroke-width="2.6"/>
<polygon points="1051.7,1107.6 1104.3,1067.0 1103.5,1065.8 1047.1,1101.0" fill="#1e1e1e"/>
<line x1="1029.9" y1="1059.6" x2="1029.9" y2="1098.5" stroke="#ff8300" stroke-width="2.5"/>
<line x1="1039.7" y1="1059.6" x2="1039.7" y2="1098.5" stroke="#ff8300" stroke-width="2.5"/>
<line x1="1001.7" y1="1092.7" x2="1026.0" y2="1084.9" stroke="#1e1e1e" stroke-width="2.6"/>
<line x1="1044.0" y1="1078.5" x2="1047.0" y2="1077.5" stroke="#1e1e1e" stroke-width="2.6"/>
<line x1="1001.7" y1="1109.2" x2="1021.2" y2="1113.1" stroke="#1e1e1e" stroke-width="2.6"/>
<path d="M928.7,1004.1 C900,1012 890,1035 890.7,1053.7 C891,1075 902,1097 928.7,1107.3" fill="none" stroke="#1e1e1e" stroke-width="2.3"/>
<text x="869.2" y="1208.4" font-size="33" fill="#1e1e1e" stroke="#1e1e1e" stroke-width="0.5" xml:space="preserve"><tspan>[</tspan><tspan font-weight="bold">B</tspan><tspan>]</tspan></text>
<text x="989.2" y="1206.4" font-size="33" fill="#1e1e1e" stroke="#1e1e1e" stroke-width="0.5" xml:space="preserve"><tspan>[</tspan><tspan font-weight="bold">Si</tspan><tspan>]</tspan></text>
<text x="942.5" y="1254.6" font-size="33" fill="#ff8300" stroke="#ff8300" stroke-width="0.6" font-weight="normal">P</text>
<text x="895.2" y="1280.8" font-size="33" fill="#ff8300" stroke="#ff8300" stroke-width="0.6" font-weight="normal">P</text>
<text x="989.8" y="1280.8" font-size="33" fill="#ff8300" stroke="#ff8300" stroke-width="0.6" font-weight="normal">P</text>
<text x="943.8" y="1325.0" font-size="33" fill="#ff8300" stroke="#ff8300" stroke-width="0.6" font-weight="normal">P</text>
<path d="M888.8,1175.5 Q951.2,1122 1011.5,1175.5" fill="none" stroke="#1e1e1e" stroke-width="2.4"/>
<line x1="894.2" y1="1215.8" x2="903.6" y2="1255.3" stroke="#1e1e1e" stroke-width="2.4"/>
<line x1="915.6" y1="1216.4" x2="939.1" y2="1233.2" stroke="#1e1e1e" stroke-width="2.4"/>
<line x1="966.6" y1="1233.9" x2="986.7" y2="1217.1" stroke="#1e1e1e" stroke-width="2.4"/>
<line x1="1010.2" y1="1219.8" x2="1003.5" y2="1255.3" stroke="#1e1e1e" stroke-width="2.4"/>
<line x1="919.7" y1="1270.1" x2="948.5" y2="1270.1" stroke="#ff8300" stroke-width="2.4"/>
<line x1="961.2" y1="1270.1" x2="986.7" y2="1270.1" stroke="#ff8300" stroke-width="2.4"/>
<line x1="954.5" y1="1261.3" x2="955.9" y2="1298.9" stroke="#ff8300" stroke-width="2.4"/>
<line x1="914.3" y1="1278.1" x2="941.8" y2="1302.2" stroke="#ff8300" stroke-width="2.4"/>
<line x1="986.7" y1="1284.1" x2="967.3" y2="1302.9" stroke="#ff8300" stroke-width="2.4"/>
</svg></body></html>
